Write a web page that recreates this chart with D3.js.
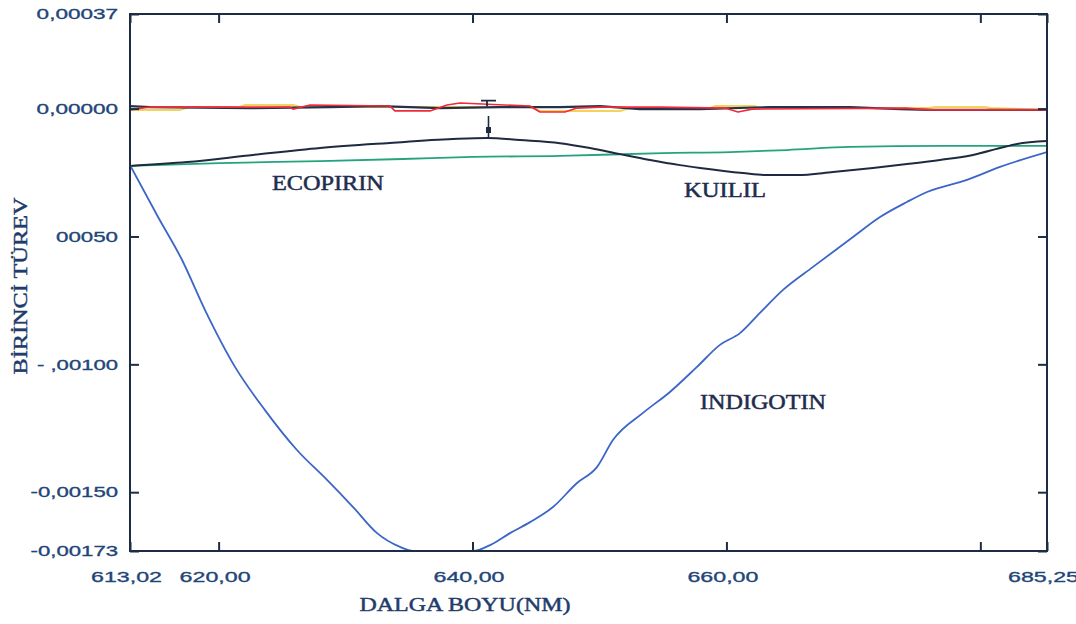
<!DOCTYPE html>
<html>
<head>
<meta charset="utf-8">
<script src="https://cdn.jsdelivr.net/npm/d3@7/dist/d3.min.js"></script>
<style>
  html, body { margin: 0; padding: 0; background: #ffffff; }
  svg { display: block; }
</style>
</head>
<body>
<svg id="chart" width="1076" height="624"></svg>
<script>
// ---- data: first derivative spectra (wavelength in nm, value) ----
const xDomain = [613.02, 685.25];
const yDomain = [-0.00173, 0.00037];

const xTicks = [613.02, 620, 640, 660, 680, 685.25];
const xTickLabels = ["613,02", "620,00", "640,00", "660,00", "", "685,25"];
const yTicks = [0.00037, 0, -0.0005, -0.001, -0.0015, -0.00173];
const yTickLabels = ["0,00037", "0,00000", "00050", "- ,00100", "-0,00150", "-0,00173"];

// INDIGOTIN
const indigotinWl = [613.02, 615.23, 617.12, 618.93, 621.29, 623.65, 626.17, 628.54, 630.59, 632.48,
  634.29, 635.31, 640.04, 641.38, 642.95, 644.53, 646.34, 648.23, 649.80, 651.06, 653.43, 655.55,
  657.68, 659.49, 661.07, 662.64, 664.46, 666.82, 669.97, 672.10, 674.22, 675.80, 678.95, 681.55, 685.25];
const indigotinVal = [-0.000221, -0.000424, -0.000592, -0.000788, -0.001010, -0.001179, -0.001335, -0.001452,
  -0.001558, -0.001660, -0.001714, -0.00173, -0.00173, -0.001707, -0.001660, -0.001617, -0.001558, -0.001464,
  -0.001402, -0.001296, -0.001190, -0.001108, -0.001010, -0.000924, -0.000878, -0.000799, -0.000709,
  -0.000619, -0.000502, -0.000424, -0.000365, -0.000326, -0.000279, -0.000228, -0.000170];

// KUILIL
const kuililWl = [613.02, 617.51, 622.71, 627.99, 633.26, 638.46, 641.14, 643.74, 646.89, 649.25, 651.62,
  653.98, 656.34, 657.92, 661.30, 663.20, 665.56, 668.39, 671.54, 674.22, 676.82, 679.42, 681.55, 682.89, 685.25];
const kuililVal = [-0.000224, -0.000209, -0.000181, -0.000154, -0.000135, -0.000119, -0.000115, -0.000123,
  -0.000135, -0.000154, -0.000178, -0.000201, -0.000221, -0.000232, -0.000252, -0.000260, -0.000260,
  -0.000248, -0.000232, -0.000217, -0.000201, -0.000181, -0.000154, -0.000138, -0.000127];

// ECOPIRIN
const ecopirinWl = [613.02, 620.11, 627.99, 634.52, 640.04, 646.89, 655.00, 660.28, 664.77, 669.73, 677.06, 685.25];
const ecopirinVal = [-0.000224, -0.000213, -0.000205, -0.000197, -0.000189, -0.000185, -0.000174, -0.000170,
  -0.000162, -0.000150, -0.000146, -0.000146];

// near-zero traces
const redWl = [613.02, 614.60, 625.62, 625.86, 627.20, 633.50, 633.89, 636.65, 637.99, 639.01, 644.53, 645.31,
  647.28, 648.23, 650.04, 654.77, 659.89, 660.91, 662.02, 674.06, 676.03, 685.25];
const redVal = [-0.000005, 0.000006, 0.000006, -0.000002, 0.000014, 0.000010, -0.000009, -0.000009, 0.000014,
  0.000022, 0.000010, -0.000013, -0.000013, 0.000002, 0.000006, 0.000006, 0.000002, -0.000013, -0.000002,
  0.000002, -0.000005, -0.000005];

const yellowWl = [613.02, 616.96, 617.75, 621.68, 622.08, 625.86, 626.41, 644.53, 645.31, 651.62, 652.40,
  658.71, 659.10, 662.25, 662.64, 676.03, 676.43, 680.37, 680.76, 685.25];
const yellowVal = [-0.000005, -0.000005, 0.000006, 0.000006, 0.000014, 0.000014, 0.000006, 0.000006, -0.000009,
  -0.000009, 0.000002, 0.000002, 0.000010, 0.000010, 0.000002, 0.000002, 0.000006, 0.000006, 0.000002, -0.000005];

const darkWl = [613.02, 614.60, 622.47, 628.77, 632.71, 637.44, 642.16, 646.89, 650.04, 653.19, 657.92,
  663.43, 669.73, 673.67, 676.03, 685.25];
const darkVal = [0.000010, 0.000006, 0.000002, 0.000006, 0.000010, 0.000002, 0.000006, 0.000006, 0.000010,
  -0.000002, -0.000002, 0.000006, 0.000006, -0.000002, -0.000005, -0.000005];

const cursorWl = 641.14;

// ---- layout ----
const plot = { left: 130, right: 1047, top: 14, bottom: 551 };
const svg = d3.select("#chart");

const x = d3.scaleLinear().domain(xDomain).range([plot.left, plot.right]);
const y = d3.scaleLinear().domain(yDomain).range([plot.bottom, plot.top]);

const C = {
  frame: "#1d2b45",
  tickText: "#1f4678",
  title: "#1f3c6a",
  label: "#1e2d4d",
  kuilil: "#1f2a40",
  dark: "#25324a",
  red: "#ee2b3b",
  yellow: "#f3d35c",
  green: "#25a37f",
  blue: "#3b66c8"
};

// wide tick-label lettering
function tickWidth(s, digit) {
  let w = 0;
  for (const ch of s) {
    if (ch === ",") w += 7;
    else if (ch === "-") w += 6;
    else if (ch === " ") w += 6;
    else w += digit;
  }
  return w;
}

// ---- series ----
const zip = (xs, ys) => xs.map((d, i) => [d, ys[i]]);
const smooth = d3.line().x(d => x(d[0])).y(d => y(d[1])).curve(d3.curveMonotoneX);
const straight = d3.line().x(d => x(d[0])).y(d => y(d[1]));
svg.append("defs").append("clipPath").attr("id", "plotClip")
  .append("rect").attr("x", plot.left).attr("y", plot.top)
  .attr("width", plot.right - plot.left).attr("height", plot.bottom - plot.top);

const g = svg.append("g").attr("clip-path", "url(#plotClip)");
const series = [
  { data: zip(ecopirinWl, ecopirinVal), color: C.green, w: 1.8, gen: smooth },
  { data: zip(kuililWl, kuililVal), color: C.kuilil, w: 2, gen: smooth },
  { data: zip(indigotinWl, indigotinVal), color: C.blue, w: 1.8, gen: smooth },
  { data: zip(yellowWl, yellowVal), color: C.yellow, w: 2, gen: straight },
  { data: zip(darkWl, darkVal), color: C.dark, w: 2.2, gen: straight },
  { data: zip(redWl, redVal), color: C.red, w: 1.6, gen: straight }
];
g.selectAll("path.series").data(series).join("path")
  .attr("class", "series")
  .attr("d", d => d.gen(d.data))
  .attr("fill", "none")
  .attr("stroke", d => d.color)
  .attr("stroke-width", d => d.w)
  .attr("stroke-linejoin", "round");

// ---- cursor marks ----
const cx = x(cursorWl);
const y0 = y(0);
svg.append("path")
  .attr("d", `M${cx - 6},${y0 - 8}H${cx + 9}M${cx},${y0 - 8}V${y0 - 2}`)
  .attr("stroke", C.kuilil).attr("stroke-width", 1.8).attr("fill", "none");
const kAt = d3.scaleLinear().domain(kuililWl).range(kuililVal)(cursorWl);
const ky = y(kAt);
svg.append("line").attr("x1", cx + 1.5).attr("x2", cx + 1.5).attr("y1", ky - 22).attr("y2", ky)
  .attr("stroke", C.kuilil).attr("stroke-width", 1.6);
svg.append("rect").attr("x", cx - 1).attr("y", ky - 11).attr("width", 5).attr("height", 6)
  .attr("fill", C.kuilil);

// ---- axes ----
const yAxis = d3.axisLeft(y).tickValues(yTicks)
  .tickFormat((d, i) => yTickLabels[i]).tickSize(-9).tickPadding(12);
const yAxisR = d3.axisRight(y).tickValues(yTicks).tickFormat("").tickSize(-9);
const xAxis = d3.axisBottom(x).tickValues(xTicks)
  .tickFormat((d, i) => xTickLabels[i]).tickSize(-9).tickPadding(20);
const xAxisT = d3.axisTop(x).tickValues(xTicks).tickFormat("").tickSize(-9);

function styleAxis(sel) {
  sel.select(".domain").remove();
  sel.selectAll(".tick line").attr("stroke", C.frame).attr("stroke-width", 2);
  sel.selectAll(".tick text")
    .attr("fill", C.tickText)
    .attr("stroke", C.tickText).attr("stroke-width", 0.35)
    .style("font-family", "'Liberation Sans', Arial, sans-serif")
    .style("font-size", "15px");
}

const gy = svg.append("g").attr("transform", `translate(${plot.left},0)`).call(yAxis).call(styleAxis);
gy.selectAll(".tick text")
  .attr("textLength", (d, i) => tickWidth(yTickLabels[i], 12.4))
  .attr("lengthAdjust", "spacingAndGlyphs");
svg.append("g").attr("transform", `translate(${plot.right},0)`).call(yAxisR).call(styleAxis);

const gx = svg.append("g").attr("transform", `translate(0,${plot.bottom})`).call(xAxis).call(styleAxis);
gx.selectAll(".tick text")
  .attr("dx", -4)
  .attr("textLength", (d, i) => tickWidth(xTickLabels[i], 12.8) || null)
  .attr("lengthAdjust", "spacingAndGlyphs");
svg.append("g").attr("transform", `translate(0,${plot.top})`).call(xAxisT).call(styleAxis);

// frame
svg.append("rect")
  .attr("x", plot.left).attr("y", plot.top)
  .attr("width", plot.right - plot.left).attr("height", plot.bottom - plot.top)
  .attr("fill", "none").attr("stroke", C.frame).attr("stroke-width", 2);

// ---- titles ----
const serif = "'Liberation Serif', 'Times New Roman', serif";
svg.append("text")
  .attr("transform", `translate(27,${286}) rotate(-90)`)
  .attr("text-anchor", "middle")
  .attr("fill", C.title).attr("stroke", C.title).attr("stroke-width", 0.45)
  .style("font-family", serif).style("font-size", "19px")
  .attr("textLength", 177).attr("lengthAdjust", "spacingAndGlyphs")
  .text("BİRİNCİ TÜREV");

svg.append("text")
  .attr("x", 465).attr("y", 611)
  .attr("text-anchor", "middle")
  .attr("fill", C.title).attr("stroke", C.title).attr("stroke-width", 0.45)
  .style("font-family", serif).style("font-size", "19px")
  .attr("textLength", 211).attr("lengthAdjust", "spacingAndGlyphs")
  .text("DALGA BOYU(NM)");

// curve labels
const curveLabels = [
  { text: "ECOPIRIN", wl: 624.20, v: -0.000318, w: 112 },
  { text: "KUILIL", wl: 656.66, v: -0.000346, w: 82 },
  { text: "INDIGOTIN", wl: 657.92, v: -0.001175, w: 126 }
];
svg.selectAll("text.curve").data(curveLabels).join("text")
  .attr("class", "curve")
  .attr("x", d => x(d.wl)).attr("y", d => y(d.v))
  .attr("fill", C.label).attr("stroke", C.label).attr("stroke-width", 0.45)
  .style("font-family", serif).style("font-size", "20px")
  .attr("textLength", d => d.w).attr("lengthAdjust", "spacingAndGlyphs")
  .text(d => d.text);
</script>
</body>
</html>
